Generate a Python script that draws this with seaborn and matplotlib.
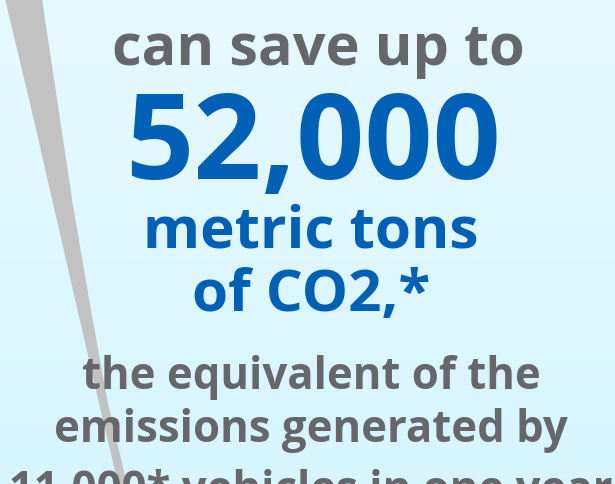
import numpy as np
import seaborn as sns
import matplotlib.pyplot as plt

# text lines of the infographic
lead_line = "can save up to"
big_number = "52,000"
blue_lines = ["metric tons", "of CO2,*"]
gray_lines = ["the equivalent of the", "emissions generated by", "11,000* vehicles in one year"]

# gray swoosh edges (pixel space, y downwards)
swoosh_y = [0, 100, 200, 300, 400, 485]
swoosh_left = [5, 29, 52, 75, 98, 118]
swoosh_right = [42, 57, 72, 89, 107, 127]

GRAY = "#65676b"
BLUE = "#0060b6"

sns.set_style("white")
plt.rcParams["font.family"] = ["Open Sans", "DejaVu Sans"]

fig = plt.figure(figsize=(6.15, 4.85), dpi=100)
ax = fig.add_axes([0, 0, 1, 1])
ax.set_xlim(0, 615)
ax.set_ylim(485, 0)
ax.axis("off")

# light cyan background gradient
grad = np.linspace(0, 1, 256)[:, None]
bg = np.array([0xe6, 0xf9, 0xff]) / 255 * (1 - grad[..., None]) + np.array([0xd7, 0xf5, 0xfe]) / 255 * grad[..., None]
ax.imshow(bg, extent=[0, 615, 485, 0], aspect="auto", zorder=0)

ax.fill_betweenx(swoosh_y, swoosh_left, swoosh_right, color="#c2c2c2", lw=0, zorder=1)

ax.text(318, 65, lead_line, color=GRAY, fontsize=41.5, fontweight="bold", ha="center", va="baseline", zorder=2)
ax.text(313, 179, big_number, color=BLUE, fontsize=86, fontweight="bold", ha="center", va="baseline", zorder=2)
for y, line in zip([248, 311], blue_lines):
    ax.text(311, y, line, color=BLUE, fontsize=42, fontweight="bold", ha="center", va="baseline", zorder=2)
for y, line in zip([389, 442, 503], gray_lines):
    ax.text(311, y, line, color=GRAY, fontsize=31.5, fontweight="bold", ha="center", va="baseline", zorder=2)

fig.savefig("out.png", dpi=100)
